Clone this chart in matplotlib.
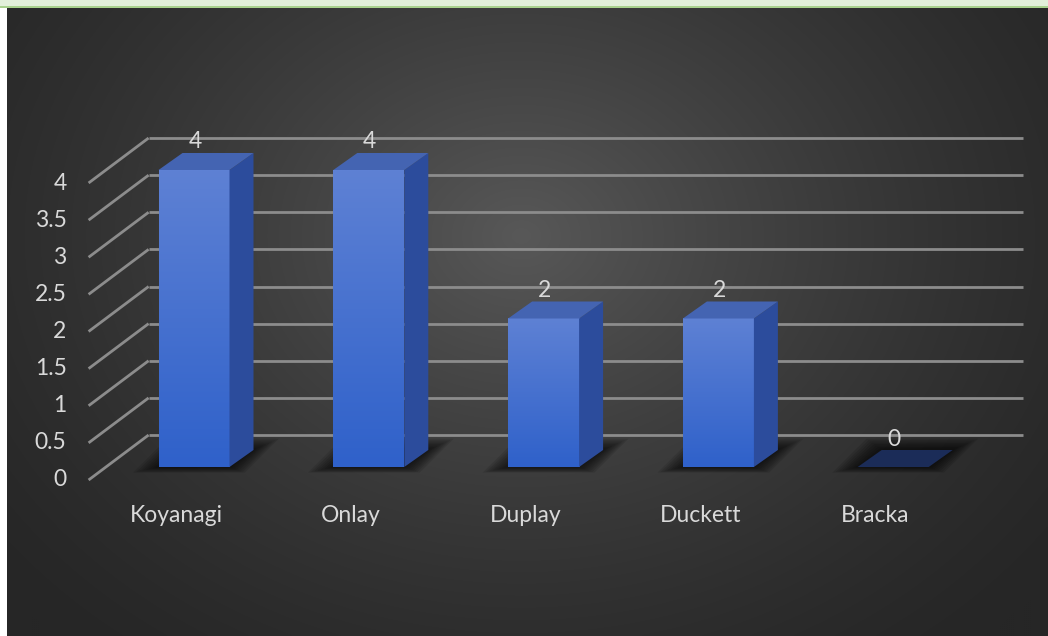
import numpy as np
import matplotlib
matplotlib.use("Agg")
import matplotlib.pyplot as plt
from matplotlib.patches import Polygon, Rectangle

# ---- data ----
categories = ["Koyanagi", "Onlay", "Duplay", "Duckett", "Bracka"]
values = [4, 4, 2, 2, 0]
y_ticks = [0, 0.5, 1, 1.5, 2, 2.5, 3, 3.5, 4]
y_tick_labels = ["0", "0.5", "1", "1.5", "2", "2.5", "3", "3.5", "4"]

W, H, DPI = 1048, 636, 100
TEXT = "#d9d9d9"
GRID = "#8c8c8c"
FONT = "Lato"
FS = 16.5

fig = plt.figure(figsize=(W / DPI, H / DPI), dpi=DPI, facecolor="white")

# green band across the top of the frame
fig.patches.append(Rectangle((0, (H - 6) / H), 1, 6 / H, transform=fig.transFigure,
                             facecolor="#e2efda", edgecolor="none", zorder=0))
fig.patches.append(Rectangle((0, (H - 8) / H), 1, 2 / H, transform=fig.transFigure,
                             facecolor="#a9d18e", edgecolor="none", zorder=0))

# dark chart area with a soft radial highlight
bg = fig.add_axes([7 / W, 0, (W - 7) / W, (H - 8) / H])
bg.set_axis_off()
bw_px, bh_px = W - 7, H - 8
ny, nx = bh_px // 2, bw_px // 2
yy, xx = np.mgrid[0:ny, 0:nx]
cx, cy = (520 - 7) / 2, (235 - 8) / 2
r = np.hypot(xx - cx, (yy - cy) * 1.25) * 2
t = np.clip(r / 680, 0, 1)
edge, center = 0x26, 0x58
g = (edge + (center - edge) * (1 - t) ** 1.4) / 255
bg.imshow(np.dstack([g, g, g]), extent=(0, 1, 0, 1), aspect="auto",
          interpolation="bilinear", origin="upper")
bg.set_xlim(0, 1)
bg.set_ylim(0, 1)

# ---- plot axes: x = category index, y = value ----
x_left, x_span = 106.6, 874.0          # pixels
y_zero, px_per_unit = 467.0, 74.25     # pixels from top
ymax = 4.5
ax = fig.add_axes([x_left / W, (H - y_zero) / H, x_span / W, ymax * px_per_unit / H])
ax.set_xlim(-0.5, len(categories) - 0.5)
ax.set_ylim(0, ymax)
ax.set_axis_off()
ax.patch.set_alpha(0)

sx = x_span / len(categories)   # pixels per x unit
sy = px_per_unit                # pixels per y unit


def px(dx, dy):
    """pixel offset -> data offset"""
    return dx / sx, dy / sy


bdx, bdy = px(42, 32)     # back wall offset
fdx, fdy = px(-18, -13)   # front edge of floor
ddx, ddy = px(24, 17)     # bar depth
xl, xr = -0.5, len(categories) - 0.5

# gridlines on back wall and side wall
for v in y_ticks:
    ax.plot([xl + bdx, xr + bdx], [v + bdy, v + bdy], color=GRID, lw=2,
            solid_capstyle="butt", zorder=1, clip_on=False)
    ax.plot([xl + fdx, xl + bdx], [v + fdy, v + bdy], color=GRID, lw=2,
            solid_capstyle="butt", zorder=1, clip_on=False)

for v, lab in zip(y_ticks, y_tick_labels):
    ox, oy = px(-22, 0)
    ax.text(xl + fdx + ox, v + fdy, lab, ha="right", va="center", color=TEXT,
            fontsize=FS, family=FONT)

bar_w = 71 / sx
grad = np.linspace(0, 1, 256)[:, None]
top_c = np.array([0x5e, 0x81, 0xd4]) / 255
bot_c = np.array([0x2f, 0x61, 0xca]) / 255
front_img = (top_c * (1 - grad)[..., None] + bot_c * grad[..., None])

for i, (name, v) in enumerate(zip(categories, values)):
    x0, x1 = i - bar_w / 2, i + bar_w / 2
    # soft shadow under the bar
    for k in range(8):
        ex, ey = px(3 + 3.2 * k, 1.5 + 1.4 * k)
        shadow = Polygon([(x0 - ex, -ey * 0.5), (x1 + ex * 0.6, -ey * 0.5),
                          (x1 + ddx + ex, ddy + ey), (x0 + ddx - ex * 0.6, ddy + ey)],
                         closed=True, facecolor="black", edgecolor="none",
                         alpha=0.1, zorder=2, clip_on=False)
        ax.add_patch(shadow)
    if v > 0:
        ax.imshow(front_img, extent=(x0, x1, 0, v), aspect="auto", origin="upper",
                  zorder=4, interpolation="bilinear", clip_on=False)
        side = Polygon([(x1, 0), (x1 + ddx, ddy), (x1 + ddx, v + ddy), (x1, v)],
                       closed=True, facecolor="#2c4c9c", edgecolor="none", zorder=4,
                       clip_on=False)
        ax.add_patch(side)
        top_col = "#4464b2"
    else:
        top_col = "#1b2c58"
    top = Polygon([(x0, v), (x1, v), (x1 + ddx, v + ddy), (x0 + ddx, v + ddy)],
                  closed=True, facecolor=top_col, edgecolor="none", zorder=5,
                  clip_on=False)
    ax.add_patch(top)

    lx, ly = px(1, 28)
    ax.text(i + lx, v + ly, f"{v:g}", ha="center", va="center", color=TEXT,
            fontsize=FS, family=FONT, zorder=6)
    cx_, cy_ = px(-18, -48)
    ax.text(i + cx_, cy_, name, ha="center", va="center", color=TEXT,
            fontsize=FS, family=FONT, zorder=6)

fig.savefig("out.png", dpi=DPI, facecolor=fig.get_facecolor())
